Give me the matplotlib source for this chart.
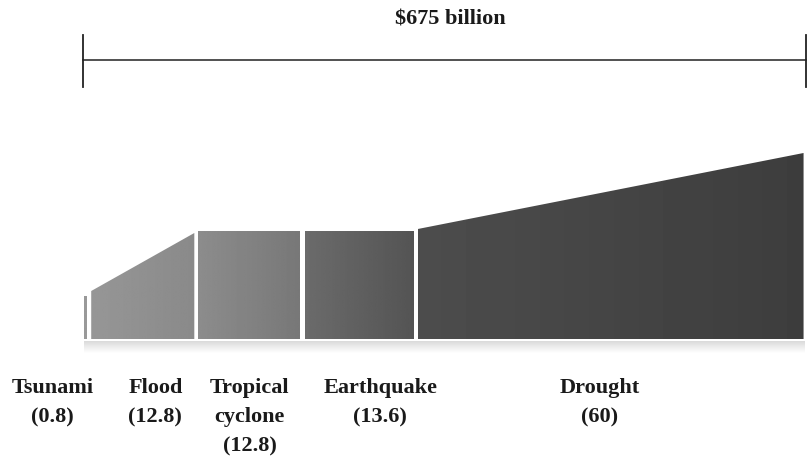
import numpy as np
import matplotlib
matplotlib.use("Agg")
import matplotlib.pyplot as plt
from matplotlib.patches import Polygon

# hazards and their share (%) of the $675 billion total
hazards = ["Tsunami\n(0.8)", "Flood\n(12.8)", "Tropical\ncyclone\n(12.8)",
           "Earthquake\n(13.6)", "Drought\n(60)"]
shares = [0.8, 12.8, 12.8, 13.6, 60]
total_label = "$675 billion"

# segment edges on a 0-100 scale, as drawn in the picture
seg_left = [0.0, 1.0, 15.8, 30.6, 46.3]
seg_right = [0.4, 15.3, 30.0, 45.8, 99.8]
# heights of the top edge at the left and right of each segment
top_left = [43, 48, 108, 108, 110]
top_right = [43, 106, 108, 108, 186]
# grey tone at left / right of each segment (gradient)
shade_left = [0.60, 0.59, 0.55, 0.42, 0.30]
shade_right = [0.60, 0.54, 0.47, 0.33, 0.24]

label_x = [-4.4, 9.9, 23.0, 41.1, 71.5]

plt.rcParams["font.family"] = ["Liberation Serif", "DejaVu Serif"]

fig = plt.figure(figsize=(8.07, 4.75), dpi=100)
ax = fig.add_axes([0, 0, 1, 1])
px = 7.21
ax.axis("off")

# soft shadow below the shape
for i in range(12):
    g = 0.86 + 0.012 * i
    ax.fill_between([0, 100], -2 - i, -3 - i, color=str(min(g, 1)), lw=0)

for i in range(len(shares)):
    x0, x1 = seg_left[i], seg_right[i]
    poly = Polygon([(x0, 0), (x0, top_left[i]), (x1, top_right[i]), (x1, 0)],
                   closed=True, facecolor="none", edgecolor="none")
    ax.add_patch(poly)
    grad = np.linspace(shade_left[i], shade_right[i], 64).reshape(1, -1)
    im = ax.imshow(grad, cmap="gray", vmin=0, vmax=1, aspect="auto",
                   extent=[x0, x1, 0, max(top_left[i], top_right[i])],
                   interpolation="bilinear")
    im.set_clip_path(poly)

ax.set_xlim(-84 / px, (807 - 84) / px)
ax.set_ylim(-136, 339)

# bracket for the total
ax.plot([-0.2, 100.1], [279, 279], color="#222222", lw=1.1)
for xb in [-0.2, 100.1]:
    ax.plot([xb, xb], [252, 304], color="#222222", lw=1.3)
ax.text(50.8, 309, total_label, ha="center", va="bottom",
        fontsize=16, fontweight="bold", color="#1a1a1a")

for i, lab in enumerate(hazards):
    ax.text(label_x[i], -39, lab, ha="center", va="top", fontsize=16,
            fontweight="bold", color="#1a1a1a", linespacing=1.62)

fig.savefig("out.png", dpi=100, facecolor="white")
